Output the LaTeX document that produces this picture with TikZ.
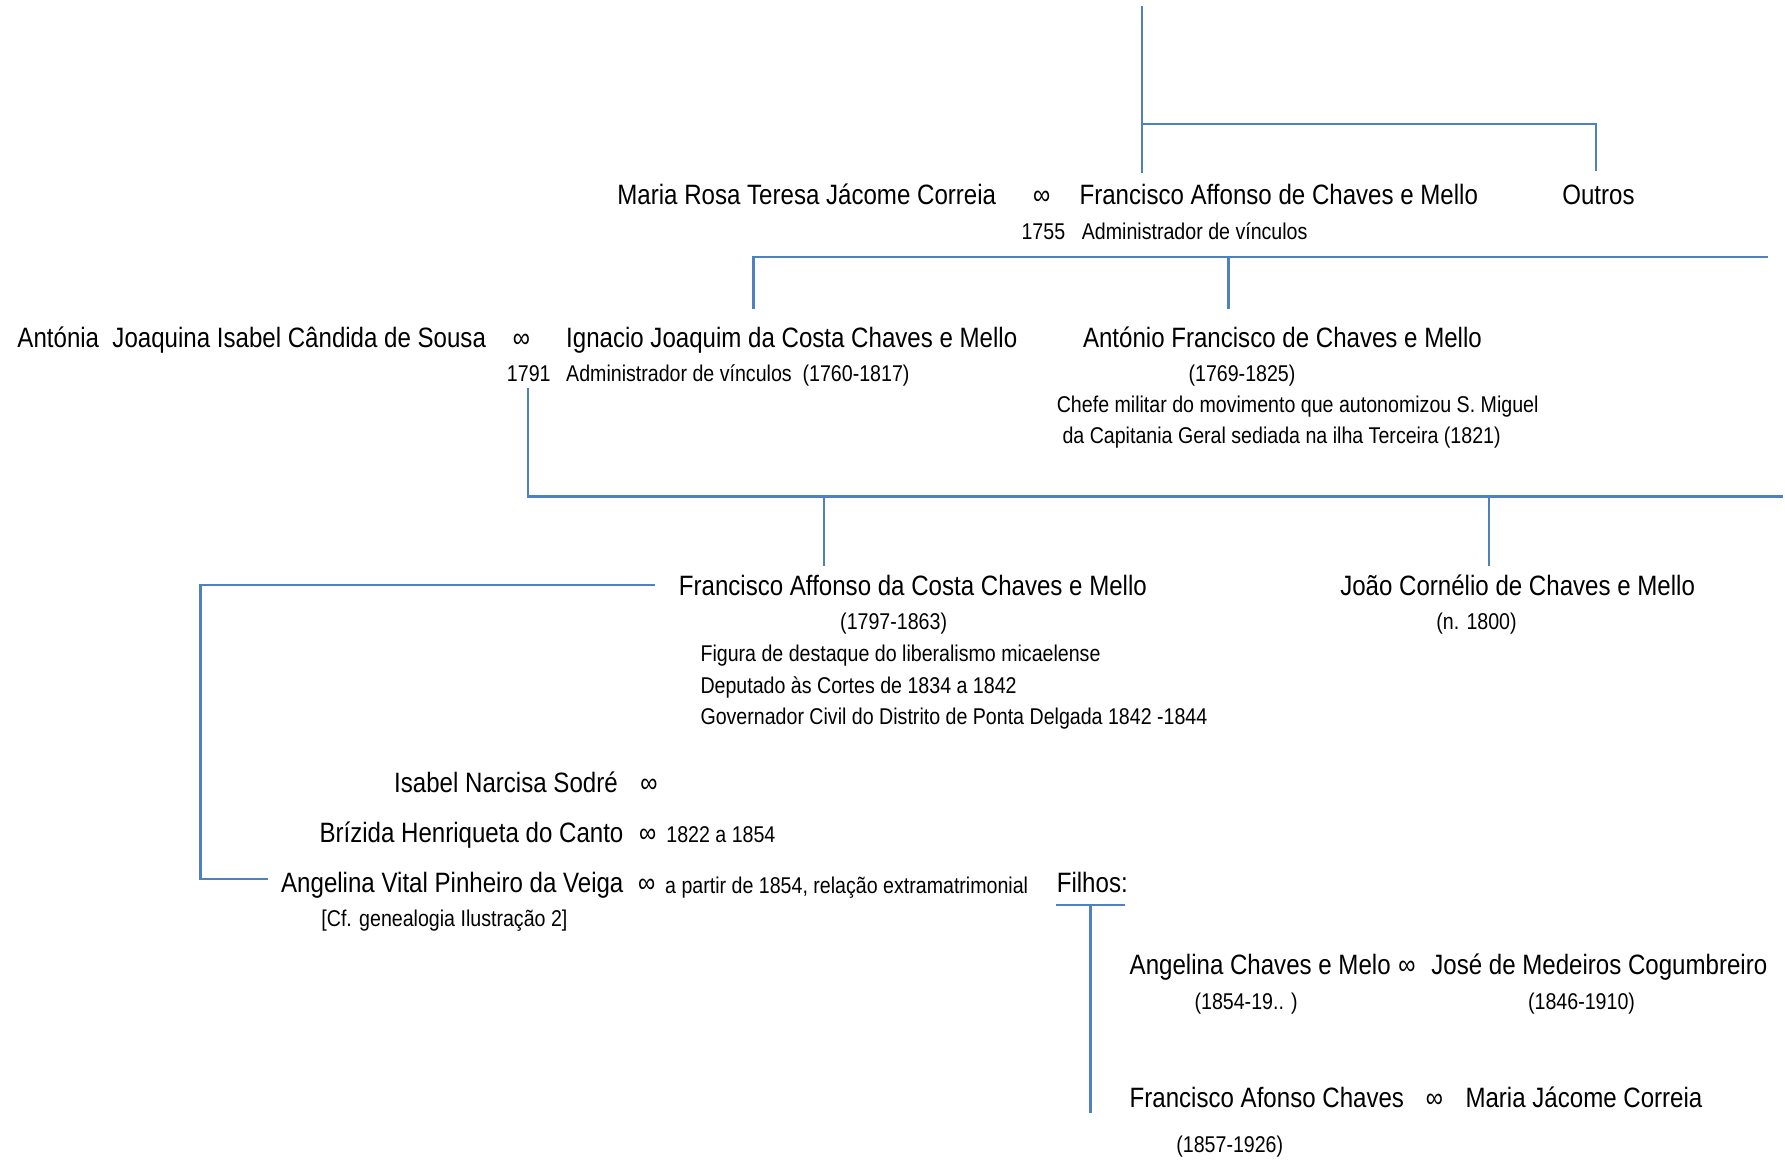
\documentclass[tikz,border=0pt]{standalone}
\usepackage{fontspec}
\setmainfont{Liberation Sans}[FakeStretch=0.86]
\definecolor{lineblue}{RGB}{79,129,189}
\tikzset{
  nm/.style={anchor=base west, inner sep=0pt, font=\fontsize{14}{16}\selectfont},
  nme/.style={nm, anchor=base east},
  nmc/.style={nm, anchor=base},
  sm/.style={anchor=base west, inner sep=0pt, font=\fontsize{11.4}{13}\selectfont},
  smc/.style={sm, anchor=base},
  inf/.style={anchor=base, inner sep=0pt, font=\fontsize{14}{16}\selectfont},
  link/.style={draw=lineblue, line width=1.2pt}
}
\begin{document}
\begin{tikzpicture}[x=0.5692pt, y=-0.5692pt]
\useasboundingbox (0,0) rectangle (1568,1019);
% generation 1
\node[nm] (mrt) at (542,180) {Maria Rosa Teresa Jácome Correia};
\node[inf] (inf1) at (915,180) {∞};
\node[nm] (fa1) at (948,180) {Francisco Affonso de Chaves e Mello};
\node[nm] (outros) at (1372,180) {Outros};
\node[sm] (y1755) at (897,210) {1755};
\node[sm] (adm1) at (950,210) {Administrador de vínculos};
% generation 2
\node[nm] (antonia) at (15,305) {Antónia\ \ Joaquina Isabel Cândida de Sousa};
\node[inf] (inf2) at (458,305) {∞};
\node[nm] (ignacio) at (497,305) {Ignacio Joaquim da Costa Chaves e Mello};
\node[sm] (y1791) at (445,335) {1791};
\node[sm] (adm2) at (497,335) {Administrador de vínculos\ \ (1760-1817)};
\node[nm] (antfr) at (951,305) {António Francisco de Chaves e Mello};
\node[smc] (d1769) at (1091,335) {(1769-1825)};
\node[sm] (chefe1) at (928,362) {Chefe militar do movimento que autonomizou S. Miguel};
\node[sm] (chefe2) at (933,390) {da Capitania Geral sediada na ilha Terceira (1821)};
% generation 3
\node[nm] (fa2) at (596,523) {Francisco Affonso da Costa Chaves e Mello};
\node[smc] (d1797) at (785,553) {(1797-1863)};
\node[sm] (fig) at (615,581) {Figura de destaque do liberalismo micaelense};
\node[sm] (dep) at (615,609) {Deputado às Cortes de 1834 a 1842};
\node[sm] (gov) at (615,636) {Governador Civil do Distrito de Ponta Delgada 1842 -1844};
\node[nm] (joao) at (1177,523) {João Cornélio de Chaves e Mello};
\node[smc] (n1800) at (1297,553) {(n. 1800)};
% spouses
\node[nme] (isabel) at (543,696) {Isabel Narcisa Sodré};
\node[inf] (inf3) at (570,696) {∞};
\node[nme] (brizida) at (548,740) {Brízida Henriqueta do Canto};
\node[inf] (inf4) at (569,740) {∞};
\node[sm] (y1822) at (585,740) {1822 a 1854};
\node[nme] (angelina) at (548,784) {Angelina Vital Pinheiro da Veiga};
\node[inf] (inf5) at (568,784) {∞};
\node[sm] (partir) at (584,785) {a partir de 1854, relação extramatrimonial};
\node[sm] (cf) at (282,814) {[Cf. genealogia Ilustração 2]};
\node[nm] (filhos) at (928,784) {Filhos:};
% children
\node[nm] (angcm) at (992,856) {Angelina Chaves e Melo};
\node[inf] (inf6) at (1236,856) {∞};
\node[nm] (jose) at (1257,856) {José de Medeiros Cogumbreiro};
\node[sm] (d1854) at (1049,887) {(1854-19.. )};
\node[sm] (d1846) at (1342,887) {(1846-1910)};
\node[nm] (fac) at (992,973) {Francisco Afonso Chaves};
\node[inf] (inf7) at (1260,973) {∞};
\node[nm] (mjc) at (1287,973) {Maria Jácome Correia};
\node[sm] (d1857) at (1033,1012) {(1857-1926)};
% connector points
\coordinate (t0) at (1003,5);
\coordinate (t1) at (1003,152);
\coordinate (j1) at (1003,109);
\coordinate (o1) at (1402,150);
\coordinate (b2r) at (1553,226);
\coordinate (b2a) at (662,271);
\coordinate (b2m) at (1079,226);
\coordinate (b2b) at (1079,271);
\coordinate (c0) at (464,341);
\coordinate (c2) at (1566,436);
\coordinate (c3t) at (724,436);
\coordinate (c3) at (724,497);
\coordinate (c4t) at (1308,436);
\coordinate (c4) at (1308,497);
\coordinate (s0) at (575,514);
\coordinate (s1) at (176,514);
\coordinate (s2) at (235,772);
\coordinate (f0) at (928,795);
\coordinate (f1) at (988,795);
\coordinate (f2) at (958,795);
\coordinate (f3) at (958,978);
% connectors
\draw[link] (t0) -- (t1);
\draw[link] (j1) -| (o1);
\draw[link] (b2a) |- (b2r);
\draw[link] (b2m) -- (b2b);
\draw[link] (c0) |- (c2);
\draw[link] (c3t) -- (c3);
\draw[link] (c4t) -- (c4);
\draw[link] (s0) -- (s1) |- (s2);
\draw[link] (f0) -- (f1);
\draw[link] (f2) -- (f3);
\end{tikzpicture}
\end{document}
